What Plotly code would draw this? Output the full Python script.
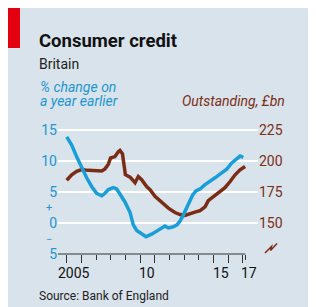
import plotly.graph_objects as go

# ---- data ----
blue_years = [2005.0, 2005.34, 2005.68, 2006.02, 2006.36, 2006.70, 2007.04, 2007.39, 2007.61, 2007.84,
              2008.18, 2008.41, 2008.63, 2008.97, 2009.32, 2009.54, 2009.77, 2010.11, 2010.41, 2010.79,
              2011.13, 2011.43, 2011.70, 2011.93, 2012.27, 2012.52, 2012.72, 2012.93, 2013.13, 2013.34,
              2013.58, 2013.81, 2014.09, 2014.43, 2014.77, 2015.11, 2015.45, 2015.91, 2016.25, 2016.59,
              2016.82, 2017.04]
pct_change = [13.9, 12.6, 10.7, 8.9, 7.3, 5.9, 4.8, 4.4, 4.8, 5.4,
              5.7, 5.5, 4.7, 3.4, 1.7, -0.3, -1.2, -1.8, -2.2, -1.8,
              -1.3, -0.8, -0.5, -0.8, -0.6, -0.3, 0.3, 1.2, 2.2, 3.3,
              4.5, 5.2, 5.5, 6.2, 6.7, 7.3, 7.9, 8.7, 9.7, 10.3,
              10.8, 10.6]

brown_years = [2005.0, 2005.34, 2005.68, 2006.02, 2006.47, 2006.93, 2007.39, 2007.61, 2007.84, 2007.99,
               2008.29, 2008.52, 2008.63, 2008.80, 2008.94, 2009.0, 2009.32, 2009.66, 2009.88, 2010.0,
               2010.11, 2010.45, 2010.68, 2011.02, 2011.48, 2011.93, 2012.38, 2012.72, 2013.06, 2013.40,
               2013.74, 2014.09, 2014.43, 2014.65, 2015.0, 2015.45, 2015.79, 2016.14, 2016.48, 2016.82,
               2017.16]
outstanding = [184.5, 188.9, 191.8, 193.2, 192.5, 192.0, 192.0, 193.7, 197.5, 202.5,
               203.6, 207.5, 208.5, 206.0, 195.0, 189.0, 187.0, 182.5, 187.5, 186.5,
               184.9, 179.5, 176.9, 171.5, 166.2, 162.0, 158.5, 156.8, 156.2, 157.2,
               158.8, 160.0, 163.0, 168.0, 171.5, 176.0, 178.5, 183.5, 188.9, 192.9,
               195.6]

left_ticks = [-5, 0, 5, 10, 15]
left_labels = ["5", "0", "5", "10", "15"]
right_ticks = [150, 175, 200, 225]
year_ticks = list(range(2005, 2018))
long_ticks = [2005, 2006, 2010, 2011, 2015, 2016, 2017]
year_labels = ["2005", "10", "15", "17"]
year_label_pos = [2005.5, 2010.5, 2015.5, 2017.45]

# ---- style / geometry (page pixels; the page body adds an 8px white margin) ----
OFF = 8
W, H = 316 - OFF, 307 - OFF
ML, MR, MT, MB = 58 - OFF, 58, 127 - OFF, 53
PW, PH = W - ML - MR, H - MT - MB
BG = "#d8e3eb"
BLUE = "#1a9ed8"
BROWN = "#7b2c14"
BLUE_TXT = "#2396cf"
BROWN_TXT = "#7d2e16"
FONT = "Roboto"


def px(x):
    return (x - OFF - ML) / PW


def py(y):
    return (H - MB - (y - OFF)) / PH


XR = [2004.407, 2018.04]

fig = go.Figure()
fig.add_trace(go.Scatter(x=brown_years, y=outstanding, mode="lines", yaxis="y",
                         line=dict(color=BROWN, width=3.5), hoverinfo="skip"))
fig.add_trace(go.Scatter(x=blue_years, y=pct_change, mode="lines", yaxis="y2",
                         line=dict(color=BLUE, width=3.5), hoverinfo="skip"))

shapes = [
    dict(type="rect", xref="paper", yref="paper", x0=px(OFF), x1=px(20), y0=py(48), y1=py(OFF),
         fillcolor="#e3000f", line_width=0, layer="above"),
    # red zero line
    dict(type="line", xref="paper", yref="y2", x0=0, x1=px(181), y0=0, y1=0,
         line=dict(color="#e0636f", width=2), layer="between"),
    # bottom axis line
    dict(type="line", xref="x", yref="paper", x0=XR[0], x1=2017.18, y0=0, y1=0,
         line=dict(color="#333333", width=1), layer="above"),
    # axis break symbol
    dict(type="path", xref="paper", yref="paper",
         path=f"M {px(265)},{py(253)} L {px(271.5)},{py(246.5)} L {px(270.5)},{py(250.5)} L {px(277)},{py(243.5)}",
         line=dict(color=BROWN_TXT, width=1.5), layer="above"),
]

annotations = [
    dict(text="<b>Consumer credit</b>", x=px(37), y=py(40.5), xanchor="left", yanchor="middle",
         font=dict(family=FONT, size=18.5, color="#111111")),
    dict(text="Britain", x=px(37), y=py(64), xanchor="left", yanchor="middle",
         font=dict(family=FONT, size=14, color="#222222")),
    dict(text="<i>% change on</i>", x=px(37.5), y=py(87), xanchor="left", yanchor="middle",
         font=dict(family=FONT, size=14, color=BLUE_TXT)),
    dict(text="<i>a year earlier</i>", x=px(37.5), y=py(101.5), xanchor="left", yanchor="middle",
         font=dict(family=FONT, size=14, color=BLUE_TXT)),
    dict(text="<i>Outstanding, £bn</i>", x=px(287), y=py(101.5), xanchor="right", yanchor="middle",
         font=dict(family=FONT, size=14, color=BROWN_TXT)),
    dict(text="Source: Bank of England", x=px(37), y=py(296), xanchor="left", yanchor="middle",
         font=dict(family=FONT, size=12, color="#222222")),
    dict(text="+", x=px(49), y=py(207.5), xanchor="center", yanchor="middle",
         font=dict(family=FONT, size=11, color=BLUE_TXT)),
    dict(text="−", x=px(49), y=py(239), xanchor="center", yanchor="middle",
         font=dict(family=FONT, size=11, color=BLUE_TXT)),
]
for lab, pos in zip(year_labels, year_label_pos):
    annotations.append(dict(text=lab, x=pos, xref="x", y=0, yref="paper", yshift=-19,
                            xanchor="center", yanchor="middle",
                            font=dict(family=FONT, size=14, color="#111111")))
for a in annotations:
    a.setdefault("xref", "paper")
    a.setdefault("yref", "paper")
    a["showarrow"] = False

fig.update_layout(
    width=W, height=H,
    margin=dict(l=ML, r=MR, t=MT, b=MB, pad=0),
    paper_bgcolor=BG, plot_bgcolor=BG,
    showlegend=False,
    xaxis=dict(range=XR, showgrid=False, zeroline=False, showline=False,
               tickmode="array", tickvals=long_ticks, ticks="outside", ticklen=8,
               tickcolor="#333333", tickwidth=1, showticklabels=False,
               minor=dict(tickmode="array", tickvals=year_ticks + [2017.18], ticks="outside",
                          ticklen=5, tickcolor="#333333", tickwidth=1, showgrid=False)),
    yaxis=dict(range=[125, 227.5], side="right", tickmode="array", tickvals=right_ticks,
               showgrid=True, gridcolor="white", gridwidth=2, zeroline=False, showline=False,
               ticks="", tickfont=dict(family=FONT, size=14, color=BROWN_TXT)),
    yaxis2=dict(range=[-5, 15.5], side="left", overlaying="y", tickmode="array",
                tickvals=left_ticks, ticktext=left_labels, showgrid=False, zeroline=False,
                showline=False, ticks="", tickfont=dict(family=FONT, size=14, color=BLUE_TXT)),
    shapes=shapes,
    annotations=annotations,
)

fig.write_html("out.html")
